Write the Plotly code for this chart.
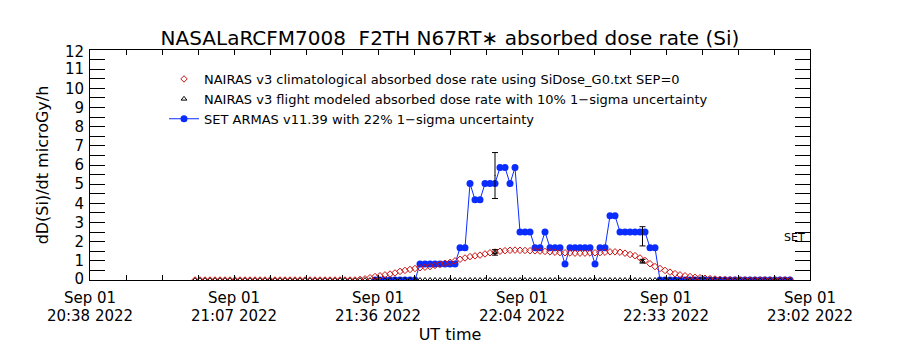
import pandas as pd
import plotly.graph_objects as go

# ---------------- data ----------------
axis_start = pd.Timestamp("2022-09-01 20:38:00")
axis_end = pd.Timestamp("2022-09-01 23:02:00")

# NAIRAS climatological (one value per minute, 20:59 .. 22:58)
clim_start = pd.Timestamp("2022-09-01 20:59:00")
clim_values = [
    0, 0, 0, 0, 0, 0, 0, 0, 0, 0, 0, 0, 0, 0, 0, 0, 0, 0, 0, 0,
    0, 0, 0, 0, 0, 0, 0, 0, 0, 0, 0, 0, 0,
    0.03, 0.06, 0.12, 0.18, 0.22, 0.27, 0.31, 0.37, 0.45, 0.50, 0.55, 0.60,
    0.64, 0.67, 0.70, 0.76, 0.82, 0.87, 0.92, 1.00, 1.08, 1.15, 1.22, 1.26,
    1.30, 1.36, 1.42, 1.46, 1.50, 1.53, 1.55, 1.56, 1.55, 1.54, 1.53, 1.52,
    1.51, 1.49, 1.47, 1.45, 1.43, 1.42, 1.41, 1.40, 1.40, 1.40, 1.41, 1.42,
    1.43, 1.45, 1.47, 1.47, 1.45, 1.40, 1.33, 1.27, 1.15, 1.02, 0.85, 0.70,
    0.60, 0.50, 0.41, 0.33, 0.27, 0.22, 0.18, 0.14, 0.12, 0.09, 0.07, 0.05,
    0.03, 0.02, 0.01,
    0, 0, 0, 0, 0, 0, 0, 0, 0, 0, 0, 0,
]

# NAIRAS flight modeled (one value per minute, 20:59 .. 22:58)
flight_start = pd.Timestamp("2022-09-01 20:59:00")
flight_values = [
    0, 0, 0, 0, 0, 0, 0, 0, 0, 0, 0, 0, 0, 0, 0, 0, 0, 0, 0, 0,
    0, 0, 0, 0, 0, 0, 0, 0, 0, 0, 0, 0, 0, 0, 0, 0, 0, 0, 0, 0,
    0, 0, 0, 0, 0, 0, 0, 0, 0, 0, 0, 0, 0, 0, 0, 0, 0, 0, 0, 0,
    0, 0, 0, 0, 0, 0, 0, 0, 0, 0, 0, 0, 0, 0, 0, 0, 0, 0, 0, 0,
    0, 0, 0, 0, 0, 0, 0, 0, 0, 0, 0, 0, 0, 0, 0, 0, 0, 0, 0, 0,
    0, 0, 0, 0, 0, 0, 0, 0, 0, 0, 0, 0, 0, 0, 0, 0, 0, 0, 0, 0,
]

# SET ARMAS (one value per minute, 21:35 .. 22:58)
set_start = pd.Timestamp("2022-09-01 21:35:00")
set_values = [
    0, 0, 0, 0, 0, 0, 0, 0, 0,
    0.84, 0.84, 0.84, 0.84, 0.84, 0.84, 0.84, 0.84,
    1.68, 1.68, 5.03, 4.19, 4.19, 5.03, 5.03, 5.03,
    5.87, 5.87, 5.03, 5.87, 2.51, 2.51, 2.51, 1.68, 1.68, 2.51,
    1.68, 1.68, 1.68, 0.84, 1.68, 1.68, 1.68, 1.68, 1.68, 0.84,
    1.68, 1.68, 3.35, 3.35, 2.51, 2.51, 2.51, 2.51, 2.51, 2.51,
    1.68, 1.68,
    0, 0, 0, 0, 0, 0, 0, 0, 0, 0, 0, 0, 0, 0, 0, 0, 0, 0, 0, 0,
    0, 0, 0, 0, 0, 0, 0,
]

# error-bar samples
err_times = ["2022-09-01 21:59:00", "2022-09-01 22:28:30"]
set_err_values = [5.45, 2.28]
set_sigma = 0.22
flight_err_values = [1.44, 0.98]
flight_sigma = 0.10

tick_date_labels = ["Sep 01", "Sep 01", "Sep 01", "Sep 01", "Sep 01", "Sep 01"]
tick_time_labels = ["20:38 2022", "21:07 2022", "21:36 2022",
                    "22:04 2022", "22:33 2022", "23:02 2022"]
y_tick_labels = ["0", "1", "2", "3", "4", "5", "6", "7", "8", "9", "10", "11", "12"]

# ---------------- figure ----------------
FONT = "DejaVu Sans"
RED = "#cc1010"
BLUE = "#0a2cff"

clim_x = pd.date_range(clim_start, periods=len(clim_values), freq="1min")
flight_x = pd.date_range(flight_start, periods=len(flight_values), freq="1min")
set_x = pd.date_range(set_start, periods=len(set_values), freq="1min")
tick_vals = pd.date_range(axis_start, axis_end, periods=len(tick_time_labels))

# label anchors: like the original, the end labels are nudged inside the axis
y_label_pos = [float(i) for i in range(len(y_tick_labels))]
y_label_pos[0] += 0.08
y_label_pos[-1] -= 0.08

fig = go.Figure()

fig.add_trace(go.Scatter(
    x=set_x, y=set_values, mode="lines+markers",
    name="SET ARMAS v11.39 with 22% 1\u2212sigma uncertainty",
    line=dict(color=BLUE, width=1),
    marker=dict(symbol="circle", size=7, color=BLUE),
    legendrank=3,
))
fig.add_trace(go.Scatter(
    x=flight_x, y=flight_values, mode="markers",
    name="NAIRAS v3 flight modeled absorbed dose rate with 10% 1\u2212sigma uncertainty",
    marker=dict(symbol="triangle-up-open", size=5, color="black", line=dict(width=1)),
    legendrank=2,
))
fig.add_trace(go.Scatter(
    x=clim_x, y=clim_values, mode="markers",
    name="NAIRAS v3 climatological absorbed dose rate using SiDose_G0.txt SEP=0",
    marker=dict(symbol="diamond-open", size=5, color=RED, line=dict(width=1)),
    legendrank=1,
))
fig.add_trace(go.Scatter(
    x=pd.to_datetime(err_times), y=set_err_values, mode="markers",
    marker=dict(size=1, color="black"),
    error_y=dict(type="data", array=[v * set_sigma for v in set_err_values],
                 color="black", thickness=1, width=3),
    showlegend=False, hoverinfo="skip",
))
fig.add_trace(go.Scatter(
    x=pd.to_datetime(err_times), y=flight_err_values, mode="markers",
    marker=dict(symbol="triangle-up-open", size=4, color="black", line=dict(width=1)),
    error_y=dict(type="data", array=[v * flight_sigma for v in flight_err_values],
                 color="black", thickness=1, width=3),
    showlegend=False, hoverinfo="skip",
))
# helper traces so the label-only axes are drawn
fig.add_trace(go.Scatter(
    x=tick_vals, y=[None] * len(tick_vals), xaxis="x2", yaxis="y", mode="markers",
    showlegend=False, hoverinfo="skip",
))
fig.add_trace(go.Scatter(
    x=tick_vals, y=[None] * len(tick_vals), xaxis="x", yaxis="y2", mode="markers",
    showlegend=False, hoverinfo="skip",
))

fig.add_annotation(
    text="SET", xref="paper", x=0.996, xanchor="right",
    yref="y", y=2.2, yanchor="middle", showarrow=False,
    font=dict(family=FONT, size=11, color="black"),
)

fig.update_layout(
    width=900, height=350,
    margin=dict(l=90, r=90, t=50, b=70),
    paper_bgcolor="white", plot_bgcolor="white",
    font=dict(family=FONT, color="black"),
    title=dict(
        text="NASALaRCFM7008&nbsp;&nbsp;F2TH N67RT\u2217 absorbed dose rate (Si)",
        font=dict(family=FONT, size=20, color="black"),
        x=0.5, xanchor="center", xref="paper",
        y=1 - 38 / 350, yanchor="middle",
    ),
    showlegend=True,
    legend=dict(
        x=(164 - 90) / 720, xanchor="left",
        y=(280 - 64) / 230, yanchor="top",
        bgcolor="rgba(0,0,0,0)", borderwidth=0,
        font=dict(family=FONT, size=13, color="black"),
        traceorder="normal", tracegroupgap=0,
    ),
    xaxis=dict(
        type="date", range=[axis_start, axis_end],
        tickmode="array", tickvals=tick_vals, ticktext=tick_date_labels,
        tickfont=dict(family=FONT, size=15, color="black"),
        ticks="inside", ticklen=5, tickcolor="black", tickwidth=1,
        ticklabelstandoff=4,
        minor=dict(dtick=432000, tick0=axis_start, ticks="inside",
                   ticklen=3, tickcolor="black", tickwidth=1, showgrid=False),
        showline=True, linecolor="black", linewidth=1, mirror="allticks",
        showgrid=False, zeroline=False,
    ),
    xaxis2=dict(
        type="date", overlaying="x", matches="x", anchor="y", side="bottom",
        range=[axis_start, axis_end],
        tickmode="array", tickvals=tick_vals, ticktext=tick_time_labels,
        tickfont=dict(family=FONT, size=15, color="black"),
        ticks="", ticklabelstandoff=25,
        showline=False, showgrid=False, zeroline=False,
        title=dict(text="UT time", font=dict(family=FONT, size=16, color="black"),
                   standoff=0),
    ),
    yaxis=dict(
        range=[0, 12], tickmode="linear", tick0=0, dtick=1,
        showticklabels=False,
        ticks="inside", ticklen=15, tickcolor="black", tickwidth=1,
        minor=dict(dtick=0.5, ticks="inside", ticklen=10,
                   tickcolor="black", tickwidth=1, showgrid=False),
        showline=True, linecolor="black", linewidth=1, mirror="allticks",
        showgrid=False, zeroline=False,
    ),
    yaxis2=dict(
        overlaying="y", anchor="x", side="left", range=[0, 12],
        tickmode="array", tickvals=y_label_pos, ticktext=y_tick_labels,
        tickfont=dict(family=FONT, size=15, color="black"),
        ticks="", ticklabelstandoff=5,
        showline=False, showgrid=False, zeroline=False,
        title=dict(text="dD(Si)/dt microGy/h",
                   font=dict(family=FONT, size=16, color="black"), standoff=12),
    ),
)

fig.write_html("out.html")
